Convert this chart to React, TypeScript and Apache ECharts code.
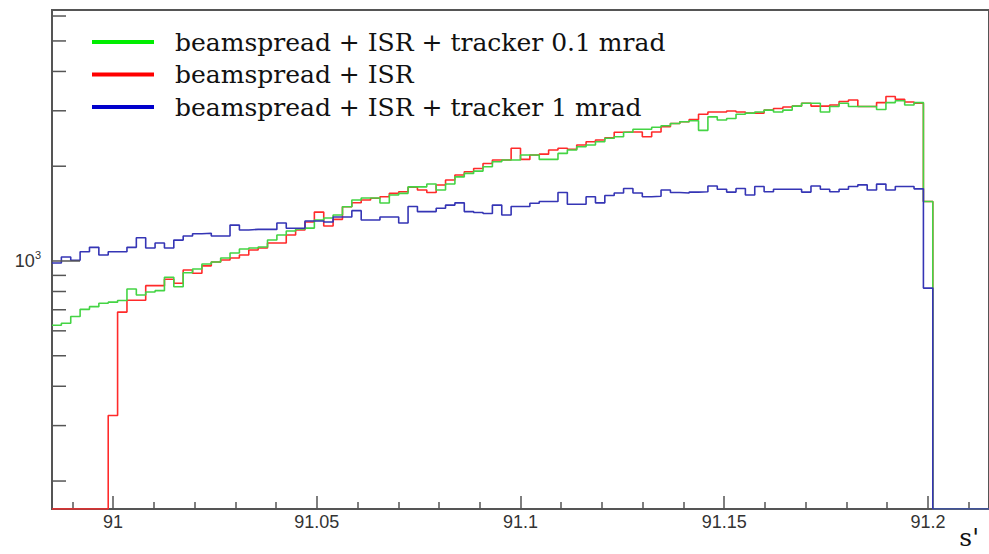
import React, { useEffect, useRef } from "react";
import * as echarts from "echarts";

// ---- axis ranges / binning (ROOT-style histogram, 100 bins) ----
const X_MIN = 90.985;
const X_MAX = 91.215;
const BIN_WIDTH = 0.0023;
const Y_MIN = 163;
const Y_MAX = 6270;

// ---- tick positions ----
const Y_MAJOR_TICKS = [1000];
const Y_MINOR_TICKS = [200, 300, 400, 500, 600, 700, 800, 900, 2000, 3000, 4000, 5000, 6000];

// ---- series names ----
const NAME_GREEN = "beamspread + ISR + tracker 0.1 mrad";
const NAME_RED = "beamspread + ISR";
const NAME_BLUE = "beamspread + ISR + tracker 1 mrad";

// ---- bin contents, bins 0..99 ----
const GREEN_VALUES = [
  625, 634, 666, 702, 716, 734, 740, 749, 815, 780,
  797, 805, 888, 828, 918, 943, 978, 993, 1022, 1060,
  1092, 1100, 1108, 1166, 1209, 1245, 1263, 1272, 1349, 1370,
  1400, 1487, 1562, 1585, 1585, 1528, 1620, 1640, 1720, 1720,
  1757, 1680, 1757, 1850, 1898, 1930, 1992, 2066, 2092, 2092,
  2170, 2170, 2102, 2102, 2197, 2251, 2305, 2335, 2392, 2455,
  2480, 2565, 2620, 2620, 2660, 2690, 2735, 2770, 2790, 2600,
  2870, 2803, 2835, 2925, 2950, 2975, 3015, 2975, 3015, 3105,
  3170, 3170, 2975, 3095, 3170, 3095, 3095, 3095, 3030, 3185,
  3230, 3130, 3185, 1545, 0, 0, 0, 0, 0, 0,
];

const RED_VALUES = [
  0, 0, 0, 0, 0, 0, 323, 688, 750, 750,
  835, 835, 875, 850, 936, 914, 965, 993, 1007, 1022,
  1045, 1084, 1100, 1140, 1140, 1209, 1254, 1330, 1430, 1292,
  1356, 1487, 1531, 1562, 1582, 1600, 1640, 1660, 1714, 1680,
  1650, 1743, 1808, 1875, 1920, 1968, 2040, 2092, 2092, 2280,
  2102, 2170, 2185, 2251, 2280, 2265, 2335, 2392, 2422, 2460,
  2565, 2570, 2570, 2480, 2570, 2670, 2735, 2770, 2815, 2925,
  2975, 2975, 2995, 2975, 2950, 2950, 3015, 3050, 3085, 3105,
  3170, 3105, 3105, 3130, 3210, 3245, 3095, 3095, 3185, 3330,
  3265, 3200, 3170, 1545, 0, 0, 0, 0, 0, 0,
];

const BLUE_VALUES = [
  985, 1030, 1005, 1070, 1105, 1045, 1070, 1070, 1105, 1185,
  1100, 1140, 1100, 1165, 1200, 1220, 1225, 1200, 1200, 1300,
  1255, 1260, 1260, 1260, 1320, 1270, 1270, 1340, 1340, 1330,
  1380, 1380, 1445, 1350, 1350, 1380, 1380, 1320, 1490, 1435,
  1435, 1470, 1505, 1530, 1435, 1425, 1415, 1505, 1400, 1490,
  1490, 1525, 1545, 1545, 1650, 1515, 1515, 1600, 1530, 1615,
  1645, 1700, 1645, 1600, 1605, 1680, 1650, 1645, 1655, 1660,
  1730, 1690, 1655, 1700, 1620, 1725, 1660, 1690, 1690, 1690,
  1655, 1730, 1690, 1660, 1690, 1725, 1745, 1680, 1755, 1680,
  1725, 1725, 1695, 820, 0, 0, 0, 0, 0, 0,
];

// empty bins are drawn on the bottom of the frame, as ROOT does
function histPoints(values: number[]): number[][] {
  const pts = values.map((v, i) => [
    +(X_MIN + i * BIN_WIDTH).toFixed(6),
    v > 0 ? v : Y_MIN,
  ]);
  pts.push([X_MAX, pts[pts.length - 1][1]]);
  return pts;
}

const FRAME = "#555555";
const SANS = "Liberation Sans, Arial, sans-serif";
const SERIF = "DejaVu Serif, serif";

export default function App() {
  const ref = useRef<HTMLDivElement>(null);

  useEffect(() => {
    if (!ref.current) return;
    const chart = echarts.init(ref.current, undefined, { renderer: "svg" });

    const tickSeries = (values: number[], len: number) => ({
      type: "custom",
      silent: true,
      clip: false,
      z: 5,
      encode: { x: 0, y: 1 },
      data: values.map((v) => [X_MIN, v]),
      renderItem: (_p: any, api: any) => {
        const pt = api.coord([api.value(0), api.value(1)]);
        return {
          type: "line",
          shape: { x1: pt[0], y1: pt[1], x2: pt[0] + len, y2: pt[1] },
          style: { stroke: FRAME, lineWidth: 1.5 },
        };
      },
    });

    const lineSeries = (name: string, values: number[], color: string, z: number) => ({
      type: "line",
      name,
      data: histPoints(values),
      step: "end",
      showSymbol: false,
      symbol: "none",
      z,
      lineStyle: { color, width: 1.6 },
      itemStyle: { color },
    });

    chart.setOption({
      animation: false,
      backgroundColor: "#ffffff",
      grid: {
        left: 52,
        top: 10,
        right: -3,
        bottom: 45,
        show: true,
        borderColor: FRAME,
        borderWidth: 2,
      },
      legend: {
        orient: "vertical",
        left: 92,
        top: 29,
        padding: 0,
        itemWidth: 62,
        itemHeight: 4,
        itemGap: 6.5,
        icon: "rect",
        selectedMode: false,
        textStyle: {
          fontFamily: SERIF,
          fontSize: 25,
          lineHeight: 26,
          color: "#111111",
          padding: [0, 0, 0, 16],
        },
        data: [
          { name: NAME_GREEN, itemStyle: { color: "#00ee00" } },
          { name: NAME_RED, itemStyle: { color: "#ff0000" } },
          { name: NAME_BLUE, itemStyle: { color: "#0000cc" } },
        ],
      },
      xAxis: {
        type: "value",
        min: X_MIN,
        max: X_MAX,
        splitNumber: 5,
        name: "s'",
        nameLocation: "end",
        nameGap: -10,
        nameTextStyle: {
          fontFamily: SERIF,
          fontSize: 25,
          lineHeight: 25,
          color: "#111111",
          align: "right",
          verticalAlign: "top",
          padding: [16, 0, 0, 0],
        },
        axisLine: { show: false, onZero: false },
        splitLine: { show: false },
        axisTick: { show: true, inside: true, length: 13, lineStyle: { color: FRAME, width: 1.5 } },
        minorTick: { show: true, splitNumber: 5, length: 7, lineStyle: { color: FRAME, width: 1.5 } },
        axisLabel: {
          showMinLabel: false,
          showMaxLabel: false,
          fontFamily: SANS,
          fontSize: 18,
          color: "#333333",
          margin: 4,
        },
      },
      yAxis: {
        type: "log",
        logBase: 10,
        min: Y_MIN,
        max: Y_MAX,
        axisLine: { show: false },
        axisTick: { show: false },
        splitLine: { show: false },
        axisLabel: {
          margin: 11,
          formatter: (v: number) => (Math.abs(v - 1000) < 1 ? "{b|10}{s|3}" : ""),
          rich: {
            b: { fontFamily: SANS, fontSize: 18, color: "#333333", lineHeight: 22 },
            s: { fontFamily: SANS, fontSize: 11, color: "#333333", verticalAlign: "top" },
          },
        },
      },
      series: [
        lineSeries(NAME_RED, RED_VALUES, "#ff2a2a", 2),
        lineSeries(NAME_GREEN, GREEN_VALUES, "#44d444", 3),
        lineSeries(NAME_BLUE, BLUE_VALUES, "#3535b5", 4),
        tickSeries(Y_MINOR_TICKS, 14),
        tickSeries(Y_MAJOR_TICKS, 28),
      ],
    });

    return () => chart.dispose();
  }, []);

  return (
    <div
      ref={ref}
      style={{ position: "fixed", left: 0, top: 0, width: 989, height: 554, background: "#fff" }}
    />
  );
}
